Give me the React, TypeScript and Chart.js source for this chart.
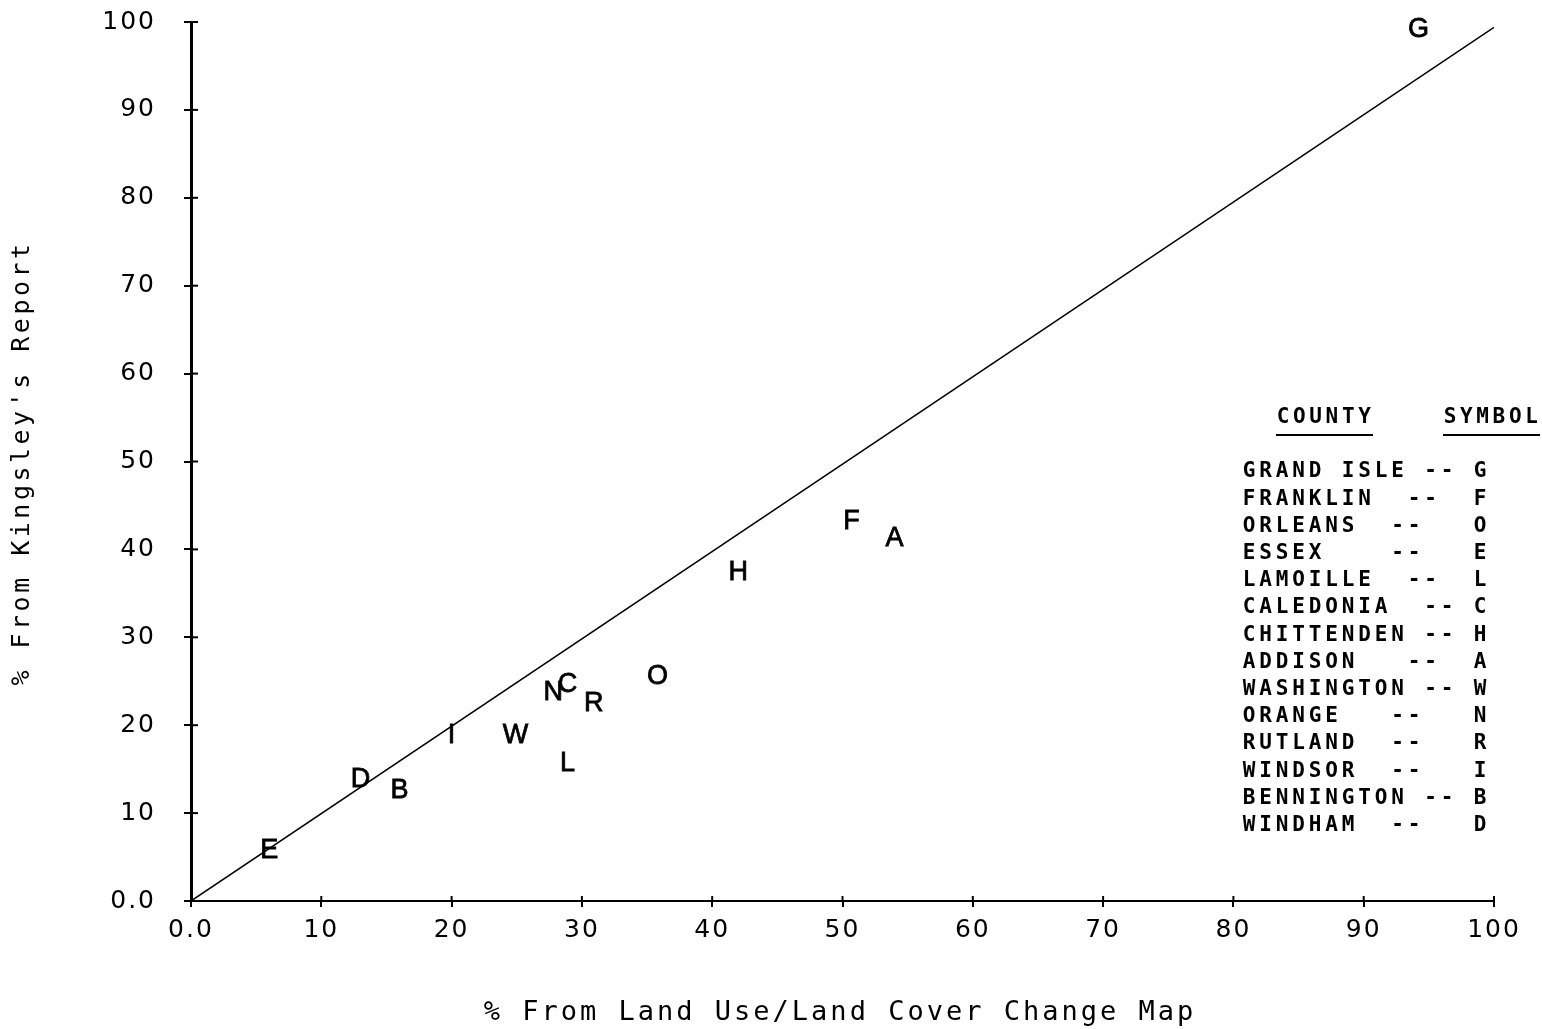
import React, { useEffect, useRef } from 'react';
import { Chart, registerables } from 'chart.js';

Chart.register(...registerables);

// ---- data ----
const pointSymbols = ['G', 'F', 'A', 'H', 'O', 'C', 'N', 'R', 'W', 'L', 'I', 'D', 'B', 'E'];
const xValues = [94.2, 50.7, 54.0, 42.0, 35.8, 28.9, 27.8, 30.9, 24.9, 28.9, 20.0, 13.0, 16.0, 6.0];
const yValues = [99.2, 43.3, 41.3, 37.5, 25.6, 24.7, 23.8, 22.6, 18.9, 15.8, 18.9, 13.9, 12.7, 5.8];
const lineX = [0, 100];
const lineY = [0, 99.4];
const tickValues = [0, 10, 20, 30, 40, 50, 60, 70, 80, 90, 100];
const legendHeaders = ['COUNTY', 'SYMBOL'];
const legendRows = [
  'GRAND ISLE -- G',
  'FRANKLIN  --  F',
  'ORLEANS  --   O',
  'ESSEX    --   E',
  'LAMOILLE  --  L',
  'CALEDONIA  -- C',
  'CHITTENDEN -- H',
  'ADDISON   --  A',
  'WASHINGTON -- W',
  'ORANGE   --   N',
  'RUTLAND  --   R',
  'WINDSOR  --   I',
  'BENNINGTON -- B',
  'WINDHAM  --   D',
];
const xTitle = '% From Land Use/Land Cover Change Map';
const yTitle = "% From Kingsley's Report";

const tickLabel = (v: number) => (v === 0 ? '0.0' : String(v));

const customPlugin = {
  id: 'customDraw',
  beforeDraw(chart: any) {
    const ctx = chart.ctx;
    ctx.save();
    ctx.fillStyle = '#ffffff';
    ctx.fillRect(0, 0, chart.width, chart.height);
    ctx.restore();
    ctx.letterSpacing = '2px';
  },
  afterDatasetsDraw(chart: any) {
    const ctx = chart.ctx;
    const meta = chart.getDatasetMeta(1);
    ctx.save();
    ctx.letterSpacing = '0px';
    ctx.fillStyle = '#000';
    ctx.strokeStyle = '#000';
    ctx.lineWidth = 0.8;
    ctx.font = '27px "Liberation Sans"';
    ctx.textAlign = 'center';
    ctx.textBaseline = 'middle';
    meta.data.forEach((el: any, i: number) => {
      ctx.fillText(pointSymbols[i], el.x, el.y + 1);
      ctx.strokeText(pointSymbols[i], el.x, el.y + 1);
    });
    ctx.restore();
  },
  afterDraw(chart: any) {
    const ctx = chart.ctx;
    ctx.letterSpacing = '0px';
    const xs = chart.scales.x;
    const ys = chart.scales.y;
    const area = chart.chartArea;
    ctx.save();
    // inner halves of the tick crosses
    ctx.strokeStyle = '#000';
    ctx.lineWidth = 2;
    tickValues.forEach((v) => {
      const px = xs.getPixelForValue(v);
      ctx.beginPath();
      ctx.moveTo(px, area.bottom);
      ctx.lineTo(px, area.bottom - 5);
      ctx.stroke();
      const py = ys.getPixelForValue(v);
      ctx.beginPath();
      ctx.moveTo(area.left, py);
      ctx.lineTo(area.left + 7, py);
      ctx.stroke();
    });

    ctx.fillStyle = '#000';
    // x title
    ctx.font = '27px "DejaVu Sans Mono"';
    ctx.letterSpacing = '3px';
    ctx.textAlign = 'center';
    ctx.textBaseline = 'middle';
    ctx.fillText(xTitle, 840, 1013);
    // y title
    ctx.save();
    ctx.translate(22, 465);
    ctx.rotate(-Math.PI / 2);
    ctx.font = '25px "DejaVu Sans Mono"';
    ctx.letterSpacing = '3.5px';
    ctx.fillText(yTitle, 2, 0);
    ctx.restore();

    // legend
    ctx.letterSpacing = '0px';
    ctx.textAlign = 'center';
    ctx.font = 'bold 21px "DejaVu Sans Mono"';
    const headerX = [1276, 1443];
    legendHeaders.forEach((h, k) => {
      for (let i = 0; i < h.length; i++) {
        ctx.fillText(h[i], headerX[k] + 7 + i * 16.3, 418);
      }
      ctx.beginPath();
      ctx.lineWidth = 2;
      ctx.moveTo(headerX[k], 435);
      ctx.lineTo(headerX[k] + 97, 435);
      ctx.stroke();
    });
    legendRows.forEach((row, r) => {
      const y = 472 + r * 27.2;
      for (let i = 0; i < row.length; i++) {
        if (row[i] !== ' ') ctx.fillText(row[i], 1249 + i * 16.5, y);
      }
    });
    ctx.restore();
  },
};

export default function App() {
  const canvasRef = useRef<HTMLCanvasElement | null>(null);

  useEffect(() => {
    if (!canvasRef.current) return;
    const chart = new Chart(canvasRef.current, {
      type: 'scatter',
      data: {
        datasets: [
          {
            data: lineX.map((x, i) => ({ x, y: lineY[i] })),
            showLine: true,
            borderColor: '#000',
            borderWidth: 1.5,
            pointRadius: 0,
          },
          {
            data: xValues.map((x, i) => ({ x, y: yValues[i] })),
            pointRadius: 0,
            borderColor: '#000',
            backgroundColor: '#000',
          },
        ],
      },
      options: {
        responsive: false,
        animation: false,
        devicePixelRatio: 1,
        layout: { padding: { top: 22, right: 48, left: 0, bottom: 0 } },
        plugins: {
          legend: { display: false },
          tooltip: { enabled: false },
          title: { display: false },
        },
        scales: {
          x: {
            type: 'linear',
            min: 0,
            max: 100,
            afterBuildTicks: (s: any) => {
              s.ticks = tickValues.map((v) => ({ value: v }));
            },
            afterFit: (s: any) => {
              s.height = 128;
              s.paddingLeft = 0;
              s.paddingRight = 0;
              s.paddingTop = 0;
              s.paddingBottom = 0;
            },
            ticks: {
              callback: (v: any) => tickLabel(Number(v)),
              font: { family: 'DejaVu Sans', size: 25 },
              color: '#000',
              padding: 8,
              maxRotation: 0,
              autoSkip: false,
            },
            grid: { drawOnChartArea: false, drawTicks: true, tickLength: 6, color: '#000', lineWidth: 2 },
            border: { display: true, color: '#000', width: 2 },
          },
          y: {
            type: 'linear',
            min: 0,
            max: 100,
            afterBuildTicks: (s: any) => {
              s.ticks = tickValues.map((v) => ({ value: v }));
            },
            afterFit: (s: any) => {
              s.width = 191;
              s.paddingLeft = 0;
              s.paddingRight = 0;
              s.paddingTop = 0;
              s.paddingBottom = 0;
            },
            ticks: {
              callback: (v: any) => tickLabel(Number(v)),
              font: { family: 'DejaVu Sans', size: 25, weight: 500 },
              color: '#000',
              padding: 28,
              autoSkip: false,
            },
            grid: { drawOnChartArea: false, drawTicks: true, tickLength: 7, color: '#000', lineWidth: 2 },
            border: { display: true, color: '#000', width: 3 },
          },
        },
      },
      plugins: [customPlugin],
    });
    return () => chart.destroy();
  }, []);

  return (
    <div style={{ position: 'absolute', left: 0, top: 0, width: 1542, height: 1029 }}>
      <canvas ref={canvasRef} width={1542} height={1029} style={{ display: 'block' }} />
    </div>
  );
}
